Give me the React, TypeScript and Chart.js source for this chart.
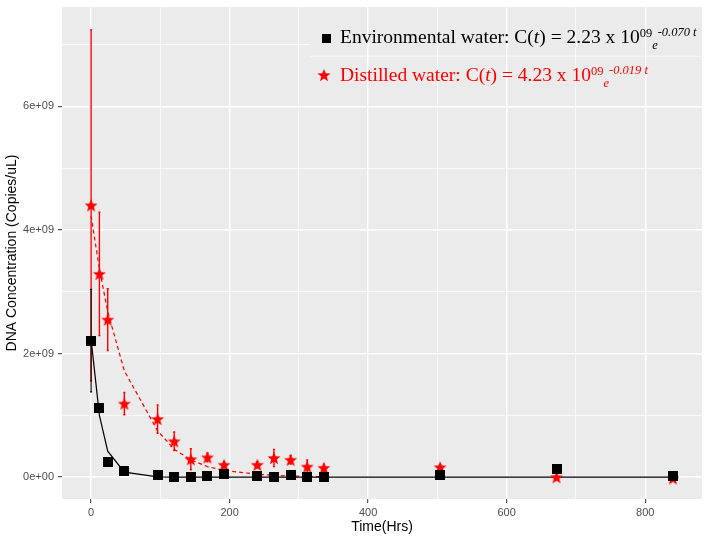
import React, { useEffect, useRef } from "react";
import { Chart, registerables } from "chart.js";

Chart.register(...registerables);

// ---- data ----
const times = [0, 12, 24, 48, 96, 120, 144, 168, 192, 240, 264, 288, 312, 336, 504, 672, 840];
const envValues = [2.21e9, 1.12e9, 0.24e9, 0.1e9, 0.03e9, 0.01e9, 0.01e9, 0.016e9, 0.05e9, 0.016e9, 0.01e9, 0.027e9, 0.01e9, 0.01e9, 0.03e9, 0.13e9, 0.02e9];
const envErrors = [0.83e9, 0.05e9, 0.03e9, 0.02e9, 0.01e9, 0.01e9, 0.01e9, 0.01e9, 0.01e9, 0.01e9, 0.01e9, 0.01e9, 0.01e9, 0.01e9, 0.01e9, 0.01e9, 0.01e9];
const distValues = [4.4e9, 3.29e9, 2.55e9, 1.19e9, 0.94e9, 0.58e9, 0.29e9, 0.32e9, 0.2e9, 0.2e9, 0.31e9, 0.28e9, 0.17e9, 0.15e9, 0.16e9, 0.0, -0.02e9];
const distErrors = [2.84e9, 1.0e9, 0.5e9, 0.18e9, 0.23e9, 0.15e9, 0.17e9, 0.07e9, 0.05e9, 0.05e9, 0.14e9, 0.07e9, 0.11e9, 0.06e9, 0.04e9, 0.02e9, 0.02e9];
const envFitTimes = [0, 12, 24, 48, 96, 120, 144, 168, 192, 240, 264, 288, 312, 336, 504, 672, 840];
const envFitValues = [2.23e9, 1.0e9, 0.42e9, 0.08e9, 0.003e9, 0.0005e9, 0.0001e9, 0, 0, 0, 0, 0, 0, 0, 0, 0, 0];
const distFitTimes = [0, 12, 24, 48, 96, 120, 144, 168, 192, 240, 264, 288, 312, 336];
const distFitValues = [4.23e9, 3.37e9, 2.68e9, 1.72e9, 0.75e9, 0.45e9, 0.28e9, 0.17e9, 0.11e9, 0.045e9, 0.03e9, 0.018e9, 0.012e9, 0.007e9];

const xTickValues = [0, 100, 200, 300, 400, 500, 600, 700, 800];
const xMajorValues = [0, 200, 400, 600, 800];
const xTickLabels = ["0", "200", "400", "600", "800"];
const yTickValues = [0, 1e9, 2e9, 3e9, 4e9, 5e9, 6e9, 7e9];
const yMajorValues = [0, 2e9, 4e9, 6e9];
const yTickLabels = ["0e+00", "2e+09", "4e+09", "6e+09"];

const xTitle = "Time(Hrs)";
const yTitle = "DNA Concentration (Copies/uL)";
const legendRows = [
  { color: "#000000", name: "Environmental water: C(", coef: ") = 2.23 x 10", exp: "09", base: "e", rate: "-0.070 t" },
  { color: "#FF0000", name: "Distilled water: C(", coef: ") = 4.23 x 10", exp: "09", base: "e", rate: "-0.019 t" },
];

// ---- styling ----
const PANEL = "#EBEBEB";
const MAJOR_W = 1.4;
const MINOR_W = 0.7;
const SANS = "'Liberation Sans', Arial, sans-serif";
const SERIF = "'Liberation Serif', 'Times New Roman', serif";

function makeSquare(side: number, color: string) {
  const c = document.createElement("canvas");
  c.width = side;
  c.height = side;
  const g = c.getContext("2d")!;
  g.fillStyle = color;
  g.fillRect(0, 0, side, side);
  return c;
}

function makeStar(R: number, color: string) {
  const size = Math.ceil(R * 2 + 2);
  const c = document.createElement("canvas");
  c.width = size;
  c.height = size;
  const g = c.getContext("2d")!;
  g.fillStyle = color;
  g.beginPath();
  const cy = size / 2 + R * 0.1;
  for (let i = 0; i < 10; i++) {
    const r = i % 2 === 0 ? R : R * 0.43;
    const a = -Math.PI / 2 + (i * Math.PI) / 5;
    g.lineTo(size / 2 + r * Math.cos(a), cy + r * Math.sin(a));
  }
  g.closePath();
  g.fill();
  return c;
}

export default function App() {
  const ref = useRef<HTMLCanvasElement>(null);

  useEffect(() => {
    document.body.style.margin = "0";
    const canvas = ref.current!;
    const square = makeSquare(10, "#000000");
    const star = makeStar(6.8, "#FF0000");
    const legendSquare = makeSquare(9, "#000000");
    const legendStar = makeStar(6.8, "#FF0000");

    const bgPlugin = {
      id: "panelBg",
      beforeDraw(chart: any) {
        const { ctx, chartArea } = chart;
        ctx.save();
        ctx.fillStyle = "#FFFFFF";
        ctx.fillRect(0, 0, chart.width, chart.height);
        ctx.fillStyle = PANEL;
        ctx.fillRect(chartArea.left, chartArea.top, chartArea.width, chartArea.height);
        ctx.restore();
      },
    };

    const errorPlugin = {
      id: "errorBars",
      beforeDatasetsDraw(chart: any) {
        const { ctx, chartArea } = chart;
        const xs = chart.scales.x;
        const ys = chart.scales.y;
        // legend backdrop: hides the 7e9 minor line under the legend, adds the separator line
        const legLeft = chartArea.right - 392;
        const y7 = ys.getPixelForValue(yTickValues[7]);
        ctx.save();
        ctx.fillStyle = PANEL;
        ctx.fillRect(legLeft, y7 - 2, chartArea.right - legLeft, 4);
        ctx.strokeStyle = "#FFFFFF";
        xTickValues.forEach((v) => {
          const px = Math.round(xs.getPixelForValue(v)) + 0.5;
          if (px < legLeft) return;
          ctx.lineWidth = xMajorValues.includes(v) ? MAJOR_W : MINOR_W;
          ctx.beginPath();
          ctx.moveTo(px, y7 - 2);
          ctx.lineTo(px, y7 + 2);
          ctx.stroke();
        });
        ctx.lineWidth = MINOR_W;
        ctx.beginPath();
        ctx.moveTo(legLeft, y7 + 11.5);
        ctx.lineTo(chartArea.right, y7 + 11.5);
        ctx.stroke();

        const drawBars = (vals: number[], errs: number[], color: string, w: number) => {
          ctx.strokeStyle = color;
          ctx.lineWidth = w;
          times.forEach((t, i) => {
            const px = xs.getPixelForValue(t);
            const y1 = ys.getPixelForValue(vals[i] - errs[i]);
            const y2 = ys.getPixelForValue(vals[i] + errs[i]);
            ctx.beginPath();
            ctx.moveTo(px, y1);
            ctx.lineTo(px, y2);
            ctx.stroke();
            ctx.beginPath();
            ctx.moveTo(px - 1, y1);
            ctx.lineTo(px + 1, y1);
            ctx.moveTo(px - 1, y2);
            ctx.lineTo(px + 1, y2);
            ctx.stroke();
          });
        };
        drawBars(distValues, distErrors, "#FF0000", 1.4);
        drawBars(envValues, envErrors, "#000000", 1.1);
        ctx.restore();
      },
    };

    const textPlugin = {
      id: "texts",
      afterDraw(chart: any) {
        const { ctx, chartArea } = chart;
        ctx.save();
        // axis titles
        ctx.fillStyle = "#000000";
        ctx.font = `14px ${SANS}`;
        ctx.textAlign = "center";
        ctx.textBaseline = "middle";
        ctx.fillText(xTitle, (chartArea.left + chartArea.right) / 2, chartArea.bottom + 28);
        ctx.save();
        ctx.translate(12, (chartArea.top + chartArea.bottom) / 2);
        ctx.rotate(-Math.PI / 2);
        ctx.fillText(yTitle, 0, 0);
        ctx.restore();

        // legend
        const textX = chartArea.right - 362;
        ctx.textAlign = "left";
        ctx.textBaseline = "alphabetic";
        legendRows.forEach((row, i) => {
          const base = chartArea.top + 36 + i * 38;
          if (i === 0) {
            ctx.drawImage(legendSquare, textX - 14 - legendSquare.width / 2, base - 5 - legendSquare.height / 2);
          } else {
            ctx.drawImage(legendStar, textX - 16 - legendStar.width / 2, base - 6 - legendStar.height / 2);
          }
          ctx.fillStyle = row.color;
          const segs = [
            { t: row.name, f: `19.5px ${SERIF}`, dy: 0 },
            { t: "t", f: `italic 19.5px ${SERIF}`, dy: 0 },
            { t: row.coef, f: `19.5px ${SERIF}`, dy: 0 },
            { t: row.exp, f: `12.5px ${SERIF}`, dy: -6 },
            { t: row.base, f: `italic 12.5px ${SERIF}`, dy: 6 },
            { t: row.rate, f: `italic 12.5px ${SERIF}`, dy: -7 },
          ];
          let x = textX;
          segs.forEach((s) => {
            ctx.font = s.f;
            ctx.fillText(s.t, x, base + s.dy);
            x += ctx.measureText(s.t).width;
          });
        });
        ctx.restore();
      },
    };

    const noPad = (s: any) => {
      s.paddingTop = 0;
      s.paddingBottom = 0;
      s.paddingLeft = 0;
      s.paddingRight = 0;
    };

    const chart = new Chart(canvas, {
      type: "scatter",
      data: {
        datasets: [
          {
            label: "env",
            data: times.map((t, i) => ({ x: t, y: envValues[i] })),
            pointStyle: square as any,
            pointRadius: 5,
            showLine: false,
            order: 0,
          },
          {
            label: "dist",
            data: times.map((t, i) => ({ x: t, y: distValues[i] })),
            pointStyle: star as any,
            pointRadius: 6,
            showLine: false,
            order: 1,
          },
          {
            label: "envFit",
            data: envFitTimes.map((t, i) => ({ x: t, y: envFitValues[i] })),
            showLine: true,
            pointRadius: 0,
            borderColor: "#000000",
            borderWidth: 1.2,
            order: 2,
          },
          {
            label: "distFit",
            data: distFitTimes.map((t, i) => ({ x: t, y: distFitValues[i] })),
            showLine: true,
            pointRadius: 0,
            borderColor: "#FF0000",
            borderWidth: 1.2,
            borderDash: [4, 3],
            order: 3,
          },
        ],
      },
      options: {
        animation: false,
        responsive: false,
        devicePixelRatio: 1,
        layout: { padding: { top: 4, right: 4, left: 0, bottom: 0 } },
        plugins: { legend: { display: false }, tooltip: { enabled: false } },
        font: { family: SANS },
        scales: {
          x: {
            type: "linear",
            min: -42,
            max: 882,
            afterBuildTicks: (s: any) => {
              s.ticks = xTickValues.map((v) => ({ value: v }));
            },
            afterFit: (s: any) => {
              s.height = 43;
              noPad(s);
            },
            border: { display: false },
            grid: {
              color: "#FFFFFF",
              lineWidth: (c: any) => (xMajorValues.includes(c.tick?.value) ? MAJOR_W : MINOR_W),
              drawTicks: true,
              tickLength: 4,
              tickWidth: 1,
              tickColor: (c: any) => (xMajorValues.includes(c.tick?.value) ? "#333333" : "rgba(0,0,0,0)"),
            },
            ticks: {
              autoSkip: false,
              maxRotation: 0,
              padding: 3,
              color: "#4D4D4D",
              font: { size: 11, family: SANS },
              callback: (v: any) => {
                const k = xMajorValues.indexOf(Number(v));
                return k >= 0 ? xTickLabels[k] : "";
              },
            },
          },
          y: {
            type: "linear",
            min: -0.354e9,
            max: 7.61e9,
            afterBuildTicks: (s: any) => {
              s.ticks = yTickValues.map((v) => ({ value: v }));
            },
            afterFit: (s: any) => {
              s.width = 62;
              noPad(s);
            },
            border: { display: false },
            grid: {
              color: "#FFFFFF",
              lineWidth: (c: any) => (yMajorValues.includes(c.tick?.value) ? MAJOR_W : MINOR_W),
              drawTicks: true,
              tickLength: 4,
              tickWidth: 1,
              tickColor: (c: any) => (yMajorValues.includes(c.tick?.value) ? "#333333" : "rgba(0,0,0,0)"),
            },
            ticks: {
              autoSkip: false,
              padding: 4,
              color: "#4D4D4D",
              font: { size: 11, family: SANS },
              callback: (v: any) => {
                const k = yMajorValues.indexOf(Number(v));
                return k >= 0 ? yTickLabels[k] : "";
              },
            },
          },
        },
      },
      plugins: [bgPlugin, errorPlugin, textPlugin],
    } as any);

    return () => chart.destroy();
  }, []);

  return (
    <div style={{ position: "absolute", left: 0, top: 0, width: 709, height: 542 }}>
      <canvas ref={ref} width={709} height={542} style={{ display: "block", width: 709, height: 542 }} />
    </div>
  );
}
